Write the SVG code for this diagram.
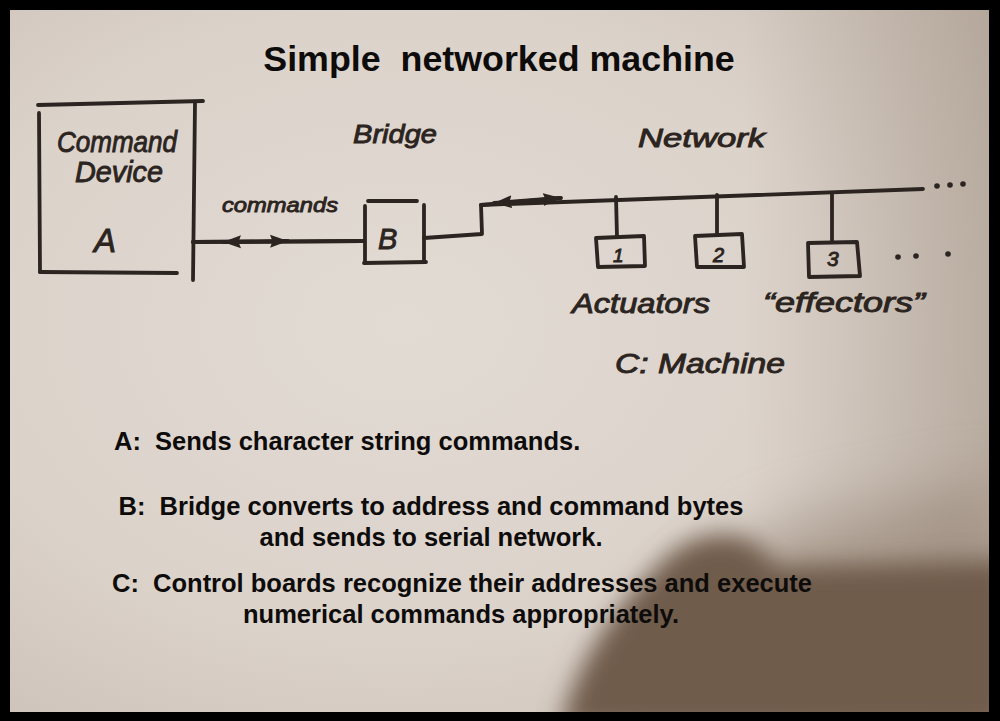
<svg xmlns="http://www.w3.org/2000/svg" width="1000" height="721" viewBox="0 0 1000 721">
  <defs>
    <radialGradient id="paper" cx="0.4" cy="0.45" r="0.75">
      <stop offset="0" stop-color="#e2dbd4"/>
      <stop offset="0.6" stop-color="#dbd2ca"/>
      <stop offset="1" stop-color="#cbc0b6"/>
    </radialGradient>
    <linearGradient id="rightShade" x1="0" y1="0" x2="1" y2="0">
      <stop offset="0.75" stop-color="#8a7868" stop-opacity="0"/>
      <stop offset="1" stop-color="#8a7868" stop-opacity="0.35"/>
    </linearGradient>
    <filter id="blur" x="-20%" y="-20%" width="140%" height="140%">
      <feGaussianBlur stdDeviation="12"/>
    </filter>
    <filter id="blur2" x="-30%" y="-30%" width="160%" height="160%">
      <feGaussianBlur stdDeviation="30"/>
    </filter>
    <clipPath id="paperClip"><rect x="10" y="10" width="979" height="702"/></clipPath>
    <marker id="ah" viewBox="0 0 18 14" refX="18" refY="7" markerWidth="18" markerHeight="14" markerUnits="userSpaceOnUse" orient="auto">
      <path d="M0,0.5 L18,7 L0,13.5 L2.5,7 Z" fill="#2b2420"/>
    </marker>
    <style>
      .ink { fill: none; stroke: #2b2420; stroke-width: 3.8; stroke-linecap: round; stroke-linejoin: round; }
      .hand { font-family: "Liberation Sans", "DejaVu Sans", sans-serif; font-style: italic; fill: #2b2420; stroke: #2b2420; stroke-width: 0.9; }
      .body { font-family: "Liberation Sans", Arial, sans-serif; font-weight: bold; fill: #0e0c0b; font-size: 25.5px; }
      .dot { fill: #2b2420; }
    </style>
  </defs>

  <!-- frame and paper -->
  <rect x="0" y="0" width="1000" height="721" fill="#000"/>
  <rect x="10" y="10" width="979" height="702" fill="url(#paper)"/>
  <rect x="10" y="10" width="979" height="702" fill="url(#rightShade)"/>
  <g clip-path="url(#paperClip)">
    <path d="M 620 721 C 640 640, 700 560, 800 520 L 1000 480 L 1000 721 Z" fill="#8c7a6a" opacity="0.5" filter="url(#blur2)"/>
    <path d="M 560 730 C 575 665, 612 612, 652 572 C 672 550, 692 536, 720 535 C 748 535, 764 548, 776 566 L 1010 560 L 1010 730 Z" fill="#6f5c4c" filter="url(#blur)"/>
  </g>

  <!-- title -->
  <text x="499" y="71" font-family="Liberation Sans, Arial, sans-serif" font-weight="bold" font-size="35.8" text-anchor="middle" fill="#0e0c0b" xml:space="preserve">Simple  networked machine</text>

  <!-- Command Device node -->
  <g id="node-command-device">
    <path class="ink" d="M 38 105 L 203 101"/>
    <path class="ink" d="M 39 113 L 40 272"/>
    <path class="ink" d="M 40 272 L 177 273"/>
    <path class="ink" d="M 195 103 L 193 280"/>
    <text class="hand" x="57" y="152" font-size="29" textLength="120" lengthAdjust="spacingAndGlyphs">Command</text>
    <text class="hand" x="75" y="182" font-size="29" textLength="88" lengthAdjust="spacingAndGlyphs">Device</text>
    <text class="hand" x="94" y="252" font-size="33" font-style="normal">A</text>
  </g>

  <!-- Bridge node -->
  <g id="node-bridge">
    <text class="hand" x="353" y="143" font-size="26" textLength="84" lengthAdjust="spacingAndGlyphs">Bridge</text>
    <path class="ink" d="M 368 201 L 417 201"/>
    <path class="ink" d="M 365 206 L 365 262"/>
    <path class="ink" d="M 364 263 L 426 262"/>
    <path class="ink" d="M 424 205 L 424 262"/>
    <text class="hand" x="378" y="249" font-size="29" font-style="normal">B</text>
  </g>

  <!-- Network label -->
  <g id="label-network">
    <text class="hand" x="638" y="147" font-size="26" textLength="127" lengthAdjust="spacingAndGlyphs">Network</text>
  </g>

  <!-- actuator nodes -->
  <g id="node-1">
    <path class="ink" d="M 596 238 L 644 236 L 645 266 L 598 267 Z"/>
    <text class="hand" x="613" y="262" font-size="19" font-style="normal">1</text>
  </g>
  <g id="node-2">
    <path class="ink" d="M 695 236 L 742 234 L 744 267 L 697 267 Z"/>
    <text class="hand" x="713" y="262" font-size="20" font-style="normal">2</text>
  </g>
  <g id="node-3">
    <path class="ink" d="M 808 243 L 857 242 L 860 276 L 809 277 Z"/>
    <text class="hand" x="827" y="266" font-size="21" font-style="normal">3</text>
  </g>
  <g id="ellipsis">
    <circle class="dot" cx="937" cy="186" r="2.8"/>
    <circle class="dot" cx="950" cy="185" r="2.8"/>
    <circle class="dot" cx="963" cy="184" r="2.8"/>
    <circle class="dot" cx="898" cy="257" r="2.8"/>
    <circle class="dot" cx="916" cy="256" r="2.8"/>
    <circle class="dot" cx="948" cy="254" r="2.8"/>
  </g>

  <g id="labels-machine">
    <text class="hand" x="572" y="313" font-size="27" textLength="138" lengthAdjust="spacingAndGlyphs">Actuators</text>
    <text class="hand" x="763" y="312" font-size="27" textLength="162" lengthAdjust="spacingAndGlyphs">“effectors”</text>
    <text class="hand" x="615" y="373" font-size="27" textLength="170" lengthAdjust="spacingAndGlyphs">C: Machine</text>
  </g>

  <!-- connectors -->
  <g id="connectors">
    <path class="ink" d="M 193 242 L 363 241"/>
    <path class="ink" d="M 363 241 L 223 242" marker-end="url(#ah)"/>
    <path class="ink" d="M 193 242 L 288 241" marker-end="url(#ah)"/>
    <text class="hand" x="222" y="212" font-size="21" textLength="116" lengthAdjust="spacingAndGlyphs">commands</text>

    <path class="ink" d="M 424 238 L 482 234 L 481 205 L 923 189"/>
    <path class="ink" d="M 560 198 L 494 203" marker-end="url(#ah)"/>
    <path class="ink" d="M 481 205 L 561 198" marker-end="url(#ah)"/>

    <path class="ink" d="M 616 197 L 617 237"/>
    <path class="ink" d="M 717 195 L 717 235"/>
    <path class="ink" d="M 832 193 L 832 242"/>
  </g>

  <!-- description text -->
  <g id="notes">
    <text class="body" x="114" y="450" xml:space="preserve">A:  Sends character string commands.</text>
    <text class="body" x="431" y="515" text-anchor="middle" xml:space="preserve">B:  Bridge converts to address and command bytes</text>
    <text class="body" x="431" y="546" text-anchor="middle">and sends to serial network.</text>
    <text class="body" x="462" y="592" text-anchor="middle" xml:space="preserve">C:  Control boards recognize their addresses and execute</text>
    <text class="body" x="461" y="623" text-anchor="middle">numerical commands appropriately.</text>
  </g>
</svg>
